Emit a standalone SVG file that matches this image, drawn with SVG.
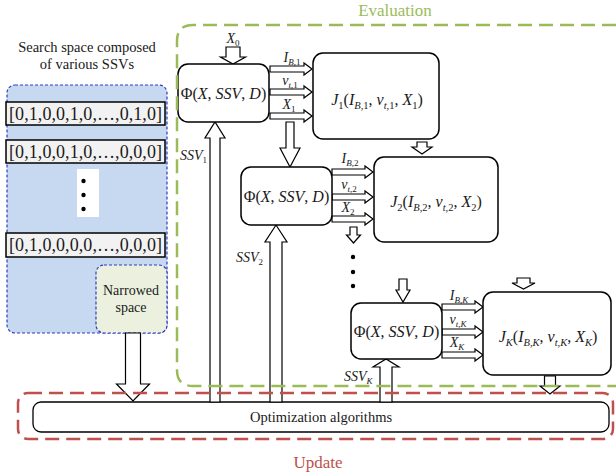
<svg xmlns="http://www.w3.org/2000/svg" width="616" height="474" viewBox="0 0 616 474" font-family="'Liberation Serif', 'DejaVu Serif', serif">
<style>
text{font-family:'Liberation Serif','DejaVu Serif',serif;fill:#1a1a1a}
.i{font-style:italic}
.m{font-size:16px}
.sb{font-size:10.5px}
.l{font-size:14px}
.sl{font-size:9px}
.box{fill:#fff;stroke:#000;stroke-width:1.5}
.ar{fill:#fff;stroke:#000;stroke-width:1.2;stroke-linejoin:miter}
.row{fill:#f2f2f2;stroke:#000;stroke-width:1.5}
.bd{stroke:#2e3dbf;stroke-width:1.2;stroke-dasharray:3 2}
</style>
<rect width="616" height="474" fill="#fff"/>

<g id="search-space">
<text x="87" y="52" text-anchor="middle" style="font-size:14.5px">Search space composed</text>
<text x="87" y="69" text-anchor="middle" style="font-size:14.5px">of various SSVs</text>
<rect x="7" y="85" width="160" height="248" rx="8" fill="#c6d9f1" class="bd"/>
<rect class="row" x="6" y="102" width="159" height="23"/>
<text x="85.5" y="120" text-anchor="middle" style="font-size:18px" textLength="153" lengthAdjust="spacing">[0,1,0,0,1,0,…,0,1,0]</text>
<rect class="row" x="6" y="140" width="159" height="23"/>
<text x="85.5" y="158" text-anchor="middle" style="font-size:18px" textLength="153" lengthAdjust="spacing">[0,1,0,0,1,0,…,0,0,0]</text>
<rect x="77" y="169" width="22" height="48" fill="#fff"/>
<circle cx="83.5" cy="181" r="2.2" fill="#000"/>
<circle cx="83.5" cy="195" r="2.2" fill="#000"/>
<circle cx="83.5" cy="209" r="2.2" fill="#000"/>
<rect class="row" x="6" y="233" width="159" height="24"/>
<text x="85.5" y="251" text-anchor="middle" style="font-size:18px" textLength="153" lengthAdjust="spacing">[0,1,0,0,0,0,…,0,0,0]</text>
</g>
<g id="narrowed-space">
<rect x="96" y="265" width="71" height="68" rx="8" fill="#ebf1de" class="bd"/>
<text x="131" y="295" text-anchor="middle" style="font-size:14px">Narrowed</text>
<text x="131" y="312" text-anchor="middle" style="font-size:14px">space</text>
</g>

<g id="optimization">
<rect x="33" y="402" width="576" height="30" rx="8" class="box" style="stroke-width:1.3"/>
<text x="321" y="422" text-anchor="middle" style="font-size:14.5px">Optimization algorithms</text>
</g>

<g id="connectors">
<polygon class="ar" points="125.5,333 140.5,333 140.5,384 149.5,384 133,401 116.5,384 125.5,384"/>
<polygon class="ar" points="226,47 240,47 240,57 245.5,57 233,64 220.5,57 226,57"/>
<polygon class="ar" points="270,66 304,66 304,63 312,69 304,75 304,72 270,72"/>
<polygon class="ar" points="270,89 304,89 304,86 312,92 304,98 304,95 270,95"/>
<polygon class="ar" points="270,113 304,113 304,110 312,116 304,122 304,119 270,119"/>
<polygon class="ar" points="286,122 294,122 294,148 300,148 290,167 280,148 286,148"/>
<polygon class="ar" points="417,142 427,142 427,147 432,147 422,154 412,147 417,147"/>
<polygon class="ar" points="332,169 365,169 365,166 373,172 365,178 365,175 332,175"/>
<polygon class="ar" points="332,194 365,194 365,191 373,197 365,203 365,200 332,200"/>
<polygon class="ar" points="332,216 365,216 365,213 373,219 365,225 365,222 332,222"/>
<polygon class="ar" points="350,227 357,227 357,235 360.5,235 353.5,243 346.5,235 350,235"/>
<circle cx="353" cy="257" r="2.2" fill="#000"/>
<circle cx="353" cy="272" r="2.2" fill="#000"/>
<circle cx="353" cy="286" r="2.2" fill="#000"/>
<polygon class="ar" points="399,279 407,279 407,290 410,290 403,302 396,290 399,290"/>
<polygon class="ar" points="517,278 530,278 530,283 535,283 523.5,289 512,283 517,283"/>
<polygon class="ar" points="442,304 475,304 475,301 483,307 475,313 475,310 442,310"/>
<polygon class="ar" points="442,329 475,329 475,326 483,332 475,338 475,335 442,335"/>
<polygon class="ar" points="442,352 475,352 475,349 483,355 475,361 475,358 442,358"/>
<polygon class="ar" points="544.5,376 555.5,376 555.5,386 560,386 550,394 540,386 544.5,386"/>
<polygon class="ar" points="210,402 210,138 205,138 215,122 225,138 220,138 220,402"/>
<polygon class="ar" points="270,402 270,242 265,242 276,225 287,242 282,242 282,402"/>
<polygon class="ar" points="380,402 380,367 373,367 386,359 399,367 392,367 392,402"/>
<text x="233" y="43" text-anchor="middle" class="l"><tspan class="i">X</tspan><tspan class="sl" dy="3">0</tspan></text>
<text x="292" y="62" text-anchor="middle" class="l"><tspan class="i">I</tspan><tspan class="sl" dy="3"><tspan class="i">B</tspan>,1</tspan></text>
<text x="290" y="85" text-anchor="middle" class="l"><tspan class="i">v</tspan><tspan class="sl" dy="3"><tspan class="i">t</tspan>,1</tspan></text>
<text x="289" y="109" text-anchor="middle" class="l"><tspan class="i">X</tspan><tspan class="sl" dy="3">1</tspan></text>
<text x="350" y="163" text-anchor="middle" class="l"><tspan class="i">I</tspan><tspan class="sl" dy="3"><tspan class="i">B</tspan>,2</tspan></text>
<text x="349" y="189" text-anchor="middle" class="l"><tspan class="i">v</tspan><tspan class="sl" dy="3"><tspan class="i">t</tspan>,2</tspan></text>
<text x="348" y="212" text-anchor="middle" class="l"><tspan class="i">X</tspan><tspan class="sl" dy="3">2</tspan></text>
<text x="459" y="300" text-anchor="middle" class="l"><tspan class="i">I</tspan><tspan class="sl" dy="3"><tspan class="i">B</tspan>,<tspan class="i">K</tspan></tspan></text>
<text x="458" y="324" text-anchor="middle" class="l"><tspan class="i">v</tspan><tspan class="sl" dy="3"><tspan class="i">t</tspan>,<tspan class="i">K</tspan></tspan></text>
<text x="457" y="347" text-anchor="middle" class="l"><tspan class="i">X</tspan><tspan class="sl i" dy="3">K</tspan></text>
<text x="180" y="160" class="l"><tspan class="i">SSV</tspan><tspan class="sl" dy="3">1</tspan></text>
<text x="236" y="262" class="l"><tspan class="i">SSV</tspan><tspan class="sl" dy="3">2</tspan></text>
<text x="344" y="381" class="l"><tspan class="i">SSV</tspan><tspan class="sl i" dy="3">K</tspan></text>
</g>

<g id="phi1">
<rect class="box" x="178" y="64" width="91" height="58" rx="10"/>
<text class="m" x="223.5" y="98.5" text-anchor="middle">Φ(<tspan class="i">X</tspan>, <tspan class="i">SSV</tspan>, <tspan class="i">D</tspan>)</text>
</g>
<g id="j1">
<rect class="box" x="313" y="53" width="126" height="86" rx="10"/>
<text class="m" x="377" y="105" text-anchor="middle"><tspan class="i">J</tspan><tspan class="sb" dy="4">1</tspan><tspan dy="-4">(</tspan><tspan class="i">I</tspan><tspan class="sb" dy="4"><tspan class="i">B</tspan>,1</tspan><tspan dy="-4">, </tspan><tspan class="i">v</tspan><tspan class="sb" dy="4"><tspan class="i">t</tspan>,1</tspan><tspan dy="-4">, </tspan><tspan class="i">X</tspan><tspan class="sb" dy="4">1</tspan><tspan dy="-4">)</tspan></text>
</g>
<g id="phi2">
<rect class="box" x="241" y="167" width="91" height="58" rx="10"/>
<text class="m" x="286.5" y="201.5" text-anchor="middle">Φ(<tspan class="i">X</tspan>, <tspan class="i">SSV</tspan>, <tspan class="i">D</tspan>)</text>
</g>
<g id="j2">
<rect class="box" x="374" y="157" width="124" height="85" rx="10"/>
<text class="m" x="436" y="207" text-anchor="middle"><tspan class="i">J</tspan><tspan class="sb" dy="4">2</tspan><tspan dy="-4">(</tspan><tspan class="i">I</tspan><tspan class="sb" dy="4"><tspan class="i">B</tspan>,2</tspan><tspan dy="-4">, </tspan><tspan class="i">v</tspan><tspan class="sb" dy="4"><tspan class="i">t</tspan>,2</tspan><tspan dy="-4">, </tspan><tspan class="i">X</tspan><tspan class="sb" dy="4">2</tspan><tspan dy="-4">)</tspan></text>
</g>
<g id="phiK">
<rect class="box" x="351" y="303" width="91" height="56" rx="10"/>
<text class="m" x="396.5" y="336.5" text-anchor="middle">Φ(<tspan class="i">X</tspan>, <tspan class="i">SSV</tspan>, <tspan class="i">D</tspan>)</text>
</g>
<g id="jK">
<rect class="box" x="483" y="292" width="128" height="83" rx="10"/>
<text class="m" x="548" y="342" text-anchor="middle"><tspan class="i">J</tspan><tspan class="sb i" dy="4">K</tspan><tspan dy="-4">(</tspan><tspan class="i">I</tspan><tspan class="sb" dy="4"><tspan class="i">B</tspan>,<tspan class="i">K</tspan></tspan><tspan dy="-4">, </tspan><tspan class="i">v</tspan><tspan class="sb" dy="4"><tspan class="i">t</tspan>,<tspan class="i">K</tspan></tspan><tspan dy="-4">, </tspan><tspan class="i">X</tspan><tspan class="sb i" dy="4">K</tspan><tspan dy="-4">)</tspan></text>
</g>

<g id="evaluation">
<path d="M616,25 H193 Q177,25 177,41 V370 Q177,386 193,386 H616" fill="none" stroke="#9bbb59" stroke-width="2.5" stroke-dasharray="14 7"/>
<text x="395" y="16" text-anchor="middle" style="font-size:17px;fill:#9bbb59">Evaluation</text>
</g>
<g id="update">
<rect x="18" y="393" width="595" height="46" rx="10" fill="none" stroke="#c0504d" stroke-width="2.5" stroke-dasharray="14 7"/>
<text x="318" y="468" text-anchor="middle" style="font-size:17px;fill:#c0504d">Update</text>
</g>
</svg>
